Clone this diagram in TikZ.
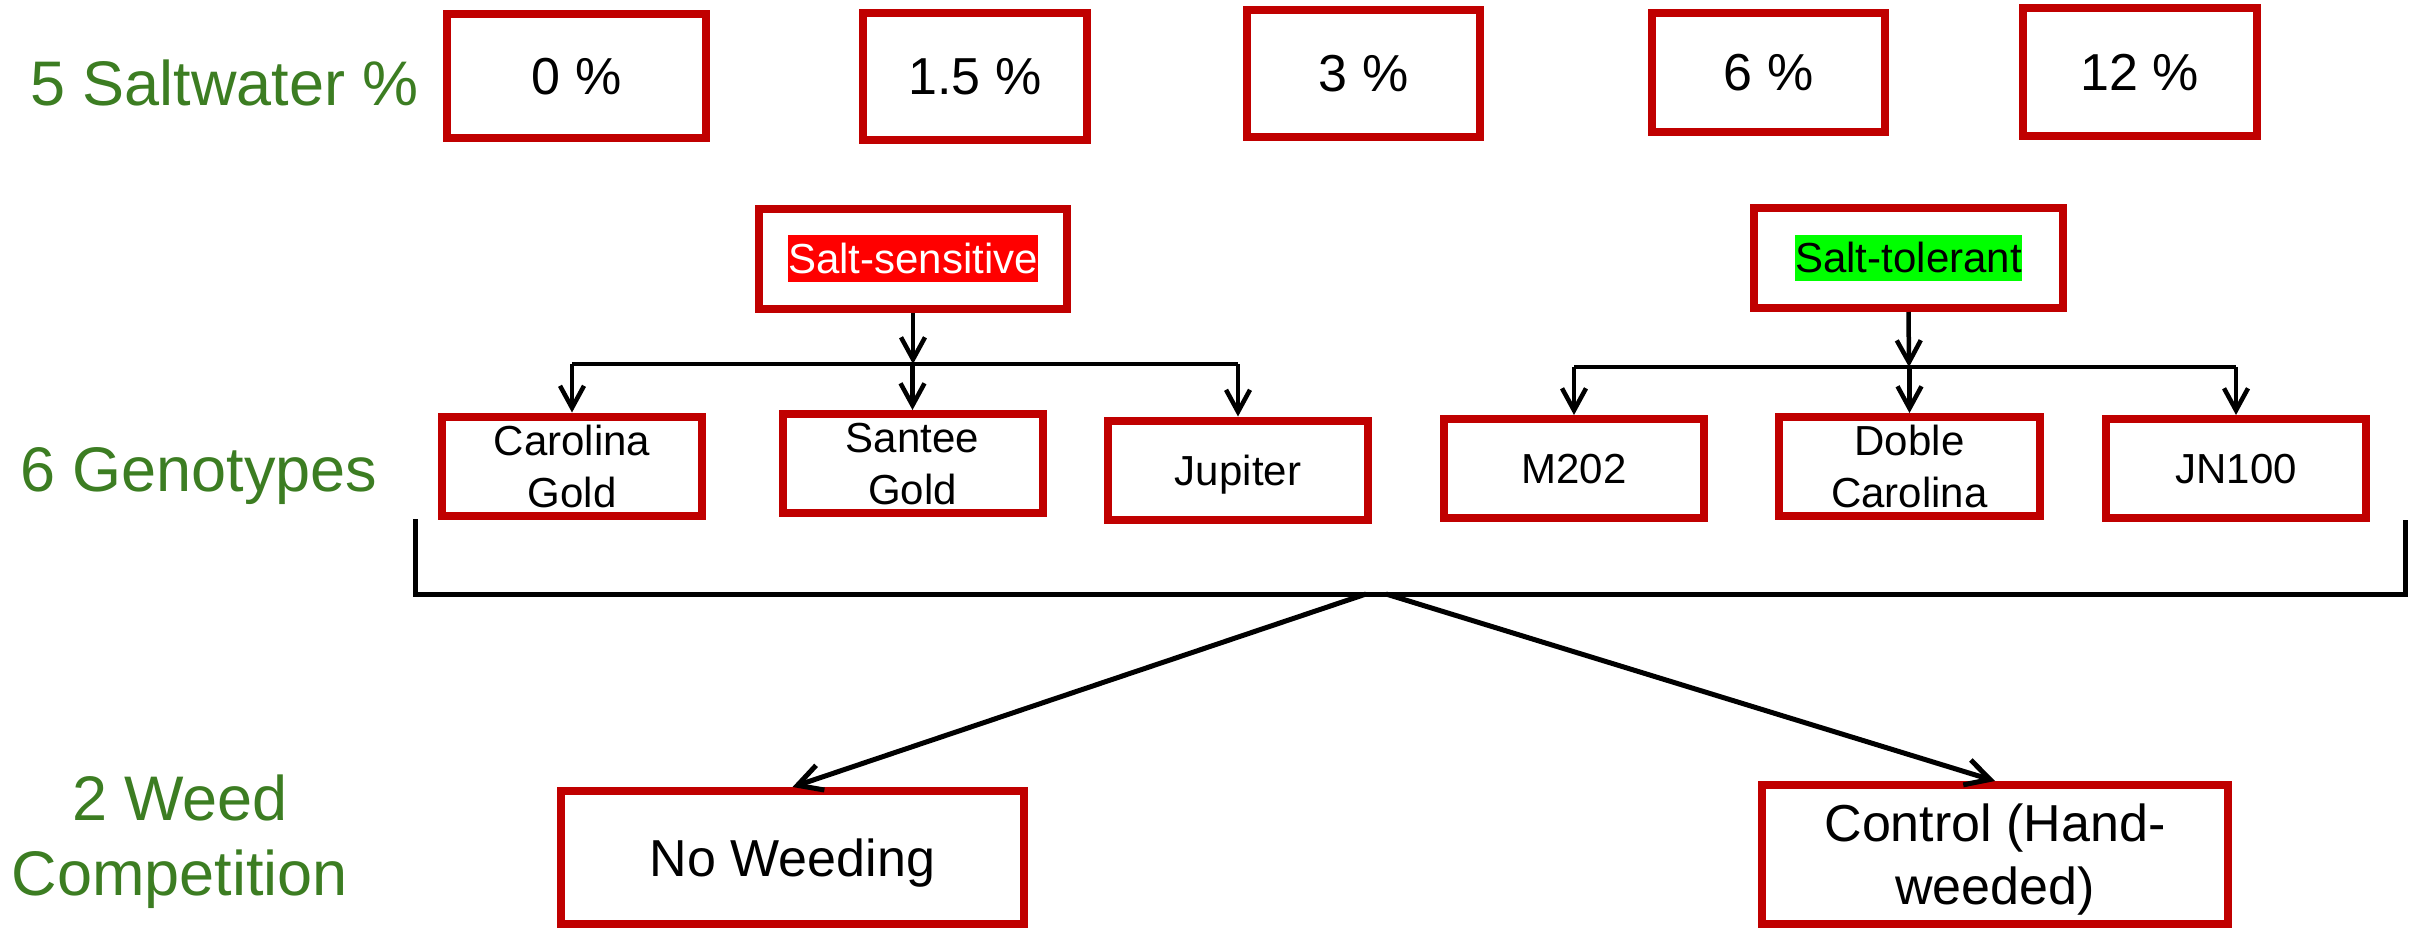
\documentclass[tikz,border=0pt]{standalone}
\usepackage{fontspec}
\setmainfont{Liberation Sans}
\usetikzlibrary{arrows.meta}
\definecolor{boxred}{RGB}{192,0,0}
\definecolor{lblgreen}{RGB}{60,125,34}
\definecolor{hlred}{RGB}{255,0,0}
\definecolor{hlgreen}{RGB}{0,255,0}
\newcommand{\hlbox}[3]{{\setlength{\fboxsep}{0pt}\colorbox{#1}{\textcolor{#2}{\rule[-0.212em]{0pt}{1.117em}#3}}}}
\begin{document}
\begin{tikzpicture}[x=1pt,y=-1pt,
  rbox/.style={draw=boxred, line width=8pt, inner sep=0pt, align=center, fill=white},
  tdz/.style={text depth=0pt},
  pct/.style={rbox, tdz, font=\fontsize{52}{62}\selectfont},
  geno/.style={rbox, tdz, font=\fontsize{42}{52}\selectfont, minimum width=260pt, minimum height=99pt},
  cat/.style={rbox, font=\fontsize{42}{50}\selectfont, minimum height=100pt},
  weed/.style={rbox, tdz, font=\fontsize{52}{63}\selectfont},
  lbl/.style={text=lblgreen, inner sep=0pt, font=\fontsize{63}{75}\selectfont},
  conn/.style={line width=4.5pt},
  arr/.style={conn, -{Straight Barb[length=22pt,width=24pt]}},
  brk/.style={line width=5pt},
  barr/.style={brk, -{Straight Barb[length=24pt,width=26pt]}},
]
\useasboundingbox[fill=white] (0,0) rectangle (2417,930);

% row labels
\node[lbl, anchor=base west] (l1) at (30,105) {5 Saltwater \%};
\node[lbl, anchor=base west] (l2) at (20,491) {6 Genotypes};
\node[lbl, align=center] (l3) at (180,841.5) {2 Weed\\Competition};

% saltwater boxes
\node[pct, minimum width=259pt, minimum height=124pt] (p0) at (576.5,76) {0 \%};
\node[pct, minimum width=224pt, minimum height=127pt] (p15) at (975,76.5) {1.5 \%};
\node[pct, minimum width=233pt, minimum height=127pt] (p3) at (1363.5,73.5) {3 \%};
\node[pct, minimum width=233pt, minimum height=119pt] (p6) at (1768.5,72.5) {6 \%};
\node[pct, minimum width=234pt, minimum height=128pt] (p12) at (2140,72) {12 \%};

% categories
\node[cat, minimum width=308pt] (ss) at (913,258.5) {\hlbox{hlred}{white}{Salt-sensitive}};
\node[cat, minimum width=309pt] (st) at (1908.5,258) {\hlbox{hlgreen}{black}{Salt-tolerant}};

% genotypes
\node[geno] (cg) at (572,466) {Carolina\\Gold};
\node[geno] (sg) at (912.5,463.5) {Santee\\Gold};
\node[geno] (jup) at (1238,470) {Jupiter};
\node[geno] (m202) at (1574,468.5) {M202};
\node[geno, minimum width=261pt] (dc) at (1909.5,466.5) {Doble\\Carolina};
\node[geno] (jn) at (2236,468.5) {JN100};

% weed competition
\node[weed, minimum width=463pt, minimum height=133pt] (nw) at (792.5,857.5) {No Weeding};
\node[weed, minimum width=466pt, minimum height=139pt] (ctl) at (1995,854.5) {Control (Hand-\\weeded)};

% salt-sensitive tree
\coordinate (ssbar) at (913,364);
\draw[arr] (ss.south) -- (ssbar);
\draw[conn] (cg.north |- ssbar) -- (jup.north |- ssbar);
\draw[arr] (cg.north |- ssbar) -- (cg.north);
\draw[arr] (sg.north |- ssbar) -- (sg.north);
\draw[arr] (jup.north |- ssbar) -- (jup.north);

% salt-tolerant tree
\coordinate (stbar) at (1909,367);
\draw[arr] (st.south) -- (stbar);
\draw[conn] (m202.north |- stbar) -- (jn.north |- stbar);
\draw[arr] (m202.north |- stbar) -- (m202.north);
\draw[arr] (dc.north |- stbar) -- (dc.north);
\draw[arr] (jn.north |- stbar) -- (jn.north);

% bracket
\coordinate (bl) at (415,519);
\coordinate (blc) at (415,594);
\coordinate (brc) at (2405,594);
\coordinate (br) at (2405,520);
\draw[brk] (bl) -- (blc) -- (brc) -- (br);
\coordinate (apL) at (1366,594);
\coordinate (apR) at (1386,594);
\draw[barr] (apL) -- (nw.north);
\draw[barr] (apR) -- (ctl.north);
\end{tikzpicture}
\end{document}
